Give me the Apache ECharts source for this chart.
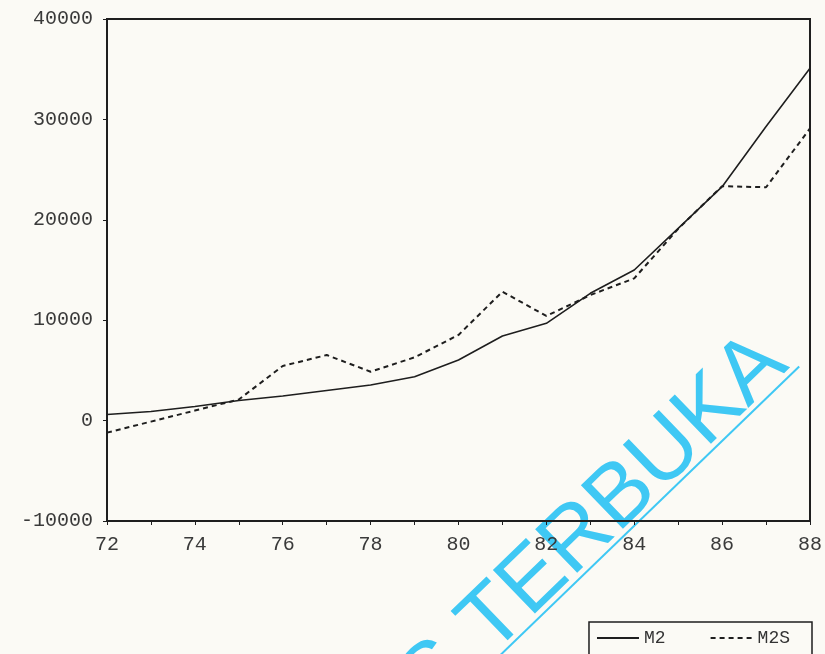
<!doctype html>
<html lang="en">
<head>
    <meta charset="UTF-8">
    <script src="https://cdn.jsdelivr.net/npm/echarts@6/dist/echarts.min.js"></script>
    <title>M2 dan M2S</title>
    <style>
        html, body { margin: 0; padding: 0; background: #fbfaf5; }
    </style>
</head>
<body>
<div id="chart" style="width: 825px;height:654px;"></div>
<script>
    // tahun 72..88
    var years = [72, 73, 74, 75, 76, 77, 78, 79, 80, 81, 82, 83, 84, 85, 86, 87, 88];
    var m2 = [600, 900, 1400, 2000, 2450, 3000, 3550, 4370, 6040, 8430, 9690, 12680, 15000, 19150, 23300, 29300, 35100];
    var m2s = [-1200, -100, 1000, 2100, 5440, 6530, 4870, 6300, 8530, 12840, 10420, 12500, 14170, 19100, 23350, 23240, 29100];
    var yTicks = [-10000, 0, 10000, 20000, 30000, 40000];

    function pairs(xs, ys) {
        var out = [];
        for (var i = 0; i < xs.length; i++) {
            out.push([xs[i], ys[i]]);
        }
        return out;
    }

    var ink = '#1e1e1e';
    var labelFont = {fontFamily: 'Liberation Mono', fontSize: 20, color: '#3a3a3a'};
    var deg = Math.PI / 180;

    var myChart = echarts.init(document.getElementById('chart'));
    var option = {
        backgroundColor: '#fbfaf5',
        animation: false,
        grid: {
            left: 107, right: 14, top: 19, bottom: 133,
            show: true,
            borderColor: ink,
            borderWidth: 2,
            backgroundColor: 'transparent'
        },
        legend: {
            right: 13,
            top: 622,
            orient: 'horizontal',
            itemWidth: 42,
            itemHeight: 10,
            itemGap: 44,
            borderColor: ink,
            borderWidth: 1.5,
            borderRadius: 0,
            padding: [7, 22, 14, 7],
            itemStyle: {opacity: 0},
            textStyle: {fontFamily: 'Liberation Mono', fontSize: 18, color: '#333'},
            data: ['M2', 'M2S']
        },
        xAxis: {
            type: 'value',
            min: 72,
            max: 88,
            interval: 1,
            axisLine: {show: true, onZero: false, lineStyle: {color: ink, width: 2}},
            axisTick: {show: true, length: 4, lineStyle: {color: ink, width: 1}},
            axisLabel: {
                margin: 14,
                fontFamily: labelFont.fontFamily,
                fontSize: labelFont.fontSize,
                color: labelFont.color,
                formatter: function (v) { return v % 2 === 0 ? String(v) : ''; }
            },
            splitLine: {show: false}
        },
        yAxis: {
            type: 'value',
            min: yTicks[0],
            max: yTicks[yTicks.length - 1],
            interval: 10000,
            axisLine: {show: true, onZero: false, lineStyle: {color: ink, width: 2}},
            axisTick: {show: true, length: 4, lineStyle: {color: ink, width: 1}},
            axisLabel: {
                margin: 14,
                fontFamily: labelFont.fontFamily,
                fontSize: labelFont.fontSize,
                color: labelFont.color,
                formatter: function (v) { return String(v); }
            },
            splitLine: {show: false}
        },
        series: [
            {
                name: 'M2',
                type: 'line',
                symbol: 'none',
                data: pairs(years, m2),
                lineStyle: {color: ink, width: 1.6, type: 'solid'},
                itemStyle: {color: ink}
            },
            {
                name: 'M2S',
                type: 'line',
                symbol: 'none',
                data: pairs(years, m2s),
                lineStyle: {color: ink, width: 2, type: [5, 4]},
                itemStyle: {color: ink}
            }
        ],
        // watermark hasil scan
        graphic: [
            {
                type: 'group',
                x: 790,
                y: 367,
                rotation: 44 * deg,
                silent: true,
                z: 100,
                children: [
                    {
                        type: 'text',
                        x: 0,
                        y: 20,
                        style: {
                            text: 'UNIVERSITAS TERBUKA',
                            textAlign: 'right',
                            textVerticalAlign: 'bottom',
                            font: '88px "Liberation Sans"',
                            fill: '#3fc8f4'
                        }
                    },
                    {
                        type: 'line',
                        shape: {x1: 7, y1: 6, x2: -1200, y2: 6},
                        style: {stroke: '#3fc8f4', lineWidth: 2}
                    }
                ]
            }
        ]
    };
    myChart.setOption(option);
</script>
</body>
</html>
